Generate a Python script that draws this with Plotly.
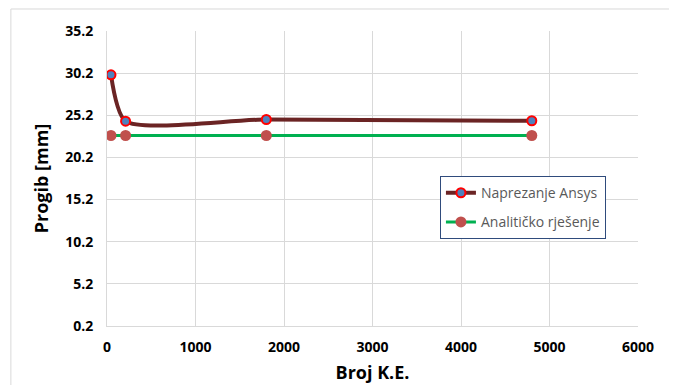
import plotly.graph_objects as go

x_ansys = [45, 210, 1800, 4800]
y_ansys = [30.0, 24.5, 24.7, 24.55]
x_anal = [45, 210, 1800, 4800]
y_anal = [22.8, 22.8, 22.8, 22.8]
y_ticks = [0.2, 5.2, 10.2, 15.2, 20.2, 25.2, 30.2, 35.2]

fig = go.Figure()
fig.add_trace(go.Scatter(
    x=x_ansys, y=y_ansys, name="Naprezanje Ansys", mode="lines+markers", legendgroup="a",
    line=dict(color="#6B2424", width=4, shape="spline", smoothing=0.65),
    marker=dict(size=9, color="#4F81BD", line=dict(color="#FF0000", width=2))))
fig.add_trace(go.Scatter(
    x=x_anal, y=y_anal, name="Analitičko rješenje", mode="lines+markers", legendgroup="b",
    line=dict(color="#00B050", width=3),
    marker=dict(size=11, color="#C0504D", line=dict(width=0))))

font_fam = "Open Sans, Liberation Sans, sans-serif"
fig.update_layout(
    width=669, height=377,
    margin=dict(l=99, r=39, t=23, b=59),
    paper_bgcolor="white", plot_bgcolor="white",
    font=dict(family=font_fam, color="#000000"),
    xaxis=dict(range=[0, 6000], dtick=1000, tick0=0, showgrid=True, gridcolor="#D9D9D9",
               gridwidth=1, showline=True, linecolor="#D9D9D9", zeroline=False, mirror=False,
               automargin=False, ticklabelstandoff=8,
               tickfont=dict(size=14, family=font_fam, weight="bold"), ticks="",
               title=dict(text="<b>Broj K.E.</b>", font=dict(size=18), standoff=11)),
    yaxis=dict(range=[0.2, 35.2], tickvals=y_ticks, ticktext=[f"{v:.1f}" for v in y_ticks],
               showgrid=True, gridcolor="#D9D9D9", gridwidth=1, showline=True, linecolor="#D9D9D9",
               automargin=False, ticklabelstandoff=10,
               zeroline=False, ticks="", tickfont=dict(size=14, family=font_fam, weight="bold"),
               title=dict(text="<b>Progib [mm]</b>", font=dict(size=18), standoff=11)),
    legend=dict(x=0.627, y=0.508, xanchor="left", yanchor="top",
                bordercolor="#2F4B7C", borderwidth=1, bgcolor="white",
                font=dict(size=14, color="#595959", family=font_fam), tracegroupgap=8),
    showlegend=True,
)
fig.add_shape(type="rect", xref="paper", yref="paper",
              x0=-0.181, x1=1.0716, y0=-0.23, y1=1.0746,
              line=dict(color="#D9D9D9", width=1), fillcolor="rgba(0,0,0,0)", layer="below")
fig.write_html("out.html")
